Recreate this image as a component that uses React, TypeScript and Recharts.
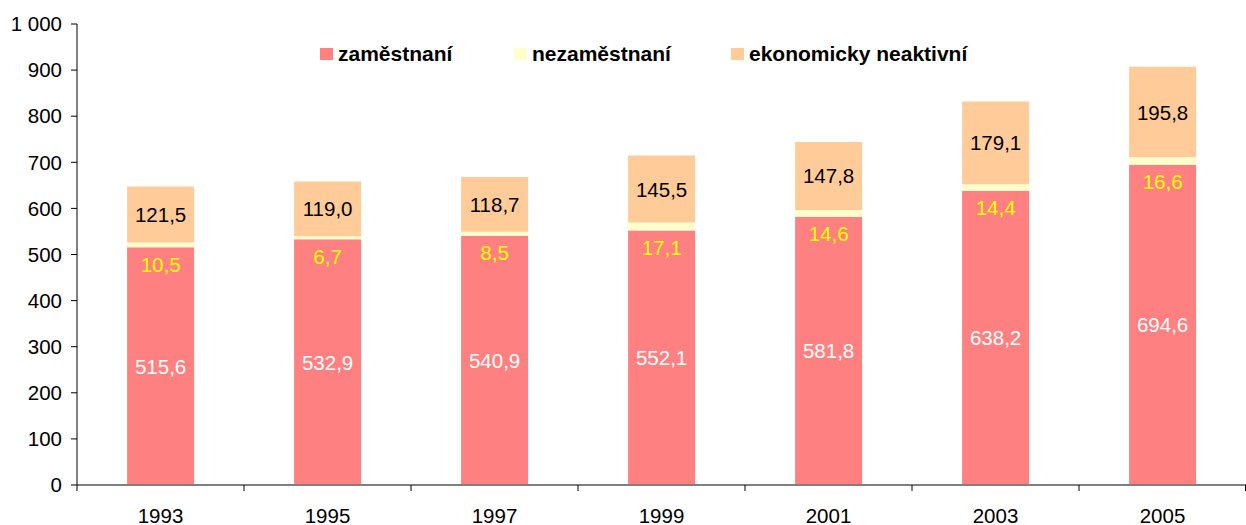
import React from 'react';
import { BarChart, Bar, XAxis, YAxis, Legend, LabelList } from 'recharts';

const years = ['1993', '1995', '1997', '1999', '2001', '2003', '2005'];
const employed = [515.6, 532.9, 540.9, 552.1, 581.8, 638.2, 694.6];
const unemployed = [10.5, 6.7, 8.5, 17.1, 14.6, 14.4, 16.6];
const inactive = [121.5, 119.0, 118.7, 145.5, 147.8, 179.1, 195.8];
const yTicks = [0, 100, 200, 300, 400, 500, 600, 700, 800, 900, 1000];
const seriesNames = ['zaměstnaní', 'nezaměstnaní', 'ekonomicky neaktivní'];
const colors = ['#FF8080', '#FFFFCC', '#FFCC99'];

const data = years.map((y, i) => ({
  year: y,
  employed: employed[i],
  unemployed: unemployed[i],
  inactive: inactive[i],
}));

const FONT = '"Liberation Sans", Arial, sans-serif';
const fmt = (v: any) => Number(v).toFixed(1).replace('.', ',');

const CenterLabel = (color: string) => (props: any) => {
  const { x, y, width, height, value } = props;
  return (
    <text x={x + width / 2} y={y + height / 2} fill={color} fontSize={20.5} fontFamily={FONT}
      textAnchor="middle" dominantBaseline="central">{fmt(value)}</text>
  );
};

const BelowLabel = (props: any) => {
  const { x, y, width, height, value } = props;
  return (
    <text x={x + width / 2} y={y + height + 17} fill="#FFFF00" fontSize={20.5} fontFamily={FONT}
      textAnchor="middle" dominantBaseline="central">{fmt(value)}</text>
  );
};

const XTick = (props: any) => {
  const { x, y, payload } = props;
  const off = payload && typeof payload.offset === 'number' && payload.offset > 0 ? payload.offset : (1246 - 77) / 14;
  const last = payload.index === years.length - 1;
  return (
    <g>
      <line x1={x - off} x2={x - off} y1={y} y2={y + 6} stroke="#000" strokeWidth={1} />
      {last && <line x1={x + off - 0.5} x2={x + off - 0.5} y1={y} y2={y + 6} stroke="#000" strokeWidth={1} />}
      <text x={x} y={y + 30} fill="#000" fontSize={20.5} fontFamily={FONT} textAnchor="middle"
        dominantBaseline="central">{payload.value}</text>
    </g>
  );
};

const itemWidths = [194, 217, 260];

const LegendContent = (props: any) => {
  const items = seriesNames.map((n, i) => ({ name: n, color: colors[i] }));
  return (
    <div style={{ display: 'flex', alignItems: 'center', fontFamily: FONT, fontWeight: 'bold', fontSize: 21, color: '#000', whiteSpace: 'nowrap' }}>
      {items.map((it, i) => (
        <div key={i} style={{ display: 'flex', alignItems: 'center', width: itemWidths[i] }}>
          <span style={{ display: 'inline-block', width: 13, height: 12, background: it.color, marginRight: 5 }} />
          <span>{it.name}</span>
        </div>
      ))}
    </div>
  );
};

export default function App() {
  return (
    <div style={{ position: 'absolute', left: 0, top: 0, width: 1246, height: 525, background: '#fff' }}>
      <BarChart width={1246} height={525} data={data} margin={{ top: 24, right: 0, left: 0, bottom: 0 }}
        barCategoryGap="30%">
        <XAxis dataKey="year" height={40} tickSize={0} tickMargin={0} tickLine={false}
          axisLine={{ stroke: '#808080', strokeWidth: 2 }} tick={<XTick />} interval={0} />
        <YAxis width={77} domain={[0, 1000]} ticks={yTicks} interval={0}
          tickFormatter={(v: number) => (v === 1000 ? '1 000' : String(v))}
          axisLine={{ stroke: '#000' }} tickLine={{ stroke: '#000' }} tickSize={6} tickMargin={9}
          tick={{ fill: '#000', fontSize: 20.5, fontFamily: FONT }} />
        <Legend layout="horizontal" verticalAlign="middle" align="center" content={<LegendContent />}
          wrapperStyle={{ top: 42, left: 320, width: 'auto', height: 'auto' }} />
        <Bar dataKey="employed" stackId="a" name={seriesNames[0]} fill={colors[0]} isAnimationActive={false}>
          <LabelList dataKey="employed" content={CenterLabel('#FFFFFF')} />
        </Bar>
        <Bar dataKey="unemployed" stackId="a" name={seriesNames[1]} fill={colors[1]} isAnimationActive={false}>
          <LabelList dataKey="unemployed" content={BelowLabel} />
        </Bar>
        <Bar dataKey="inactive" stackId="a" name={seriesNames[2]} fill={colors[2]} isAnimationActive={false}>
          <LabelList dataKey="inactive" content={CenterLabel('#000000')} />
        </Bar>
      </BarChart>
    </div>
  );
}
